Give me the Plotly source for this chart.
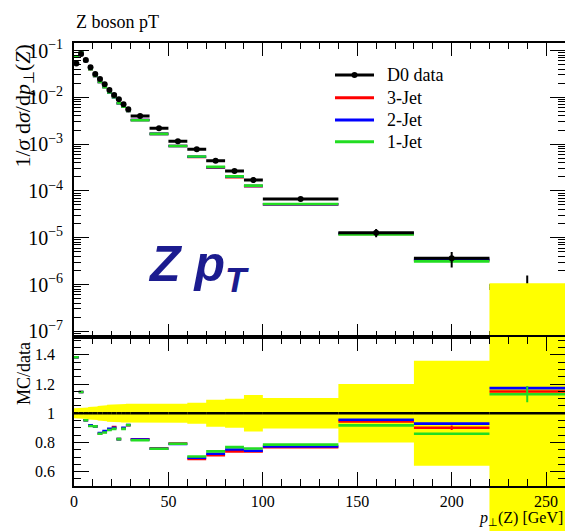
import plotly.graph_objects as go

# ---------------- data ----------------
bin_edges = [0, 2.5, 5, 7.5, 10, 12.5, 15, 17.5, 20, 22.5, 25, 27.5, 30,
             40, 50, 60, 70, 80, 90, 100, 140, 180, 220, 260]

data_vals = [0.053, 0.084, 0.0627, 0.0437, 0.0315, 0.0246, 0.0190, 0.0143,
             0.0112, 0.00906, 0.00708, 0.00554, 0.00398, 0.00218, 0.00115,
             0.000774, 0.000442, 0.000266, 0.000171, 6.7e-5, 1.28e-5,
             3.63e-6, 8.2e-7]
data_relerr = [0.035, 0.037, 0.040, 0.043, 0.046, 0.050, 0.055, 0.058, 0.060,
               0.062, 0.063, 0.065, 0.067, 0.068, 0.065, 0.072, 0.093, 0.100,
               0.125, 0.105, 0.200, 0.360, 0.890]

# MC / data ratios
ratio_3jet = [1.383, 1.146, 0.952, 0.915, 0.910, 0.860, 0.872, 0.890, 0.905,
              0.823, 0.897, 0.918, 0.822, 0.760, 0.793, 0.687, 0.713, 0.739,
              0.739, 0.768, 0.944, 0.901, 1.149]
ratio_2jet = [1.383, 1.146, 0.952, 0.918, 0.910, 0.865, 0.878, 0.893, 0.900,
              0.823, 0.900, 0.920, 0.820, 0.757, 0.790, 0.695, 0.723, 0.752,
              0.743, 0.772, 0.956, 0.929, 1.172]
ratio_1jet = [1.383, 1.146, 0.952, 0.913, 0.910, 0.860, 0.868, 0.885, 0.893,
              0.823, 0.893, 0.920, 0.815, 0.757, 0.791, 0.704, 0.739, 0.768,
              0.759, 0.785, 0.917, 0.860, 1.130]
# MC statistical errors (in ratio units)
err_3jet = [0, 0, 0, 0, 0, 0, 0, 0, 0, 0, 0, 0, 0, 0, 0, 0, 0, 0, 0, 0, 0, 0.015, 0]
err_2jet = [0, 0, 0, 0, 0, 0, 0, 0, 0, 0, 0, 0, 0, 0, 0, 0, 0, 0, 0, 0, 0, 0, 0.012]
err_1jet = [0, 0, 0, 0, 0, 0, 0, 0, 0, 0, 0, 0, 0, 0, 0, 0, 0, 0, 0, 0, 0, 0, 0.055]

legend_labels = ["D0 data", "3-Jet", "2-Jet", "1-Jet"]
mc_colors = ["#ff0000", "#0000ff", "#22dd22"]

x_ticks = [0, 50, 100, 150, 200, 250]

# ---------------- helpers ----------------
lo = bin_edges[:-1]
hi = bin_edges[1:]
centers = [(a + b) / 2 for a, b in zip(lo, hi)]
halfw = [(b - a) / 2 for a, b in zip(lo, hi)]


def segments(vals):
    xs, ys = [], []
    for a, b, v in zip(lo, hi, vals):
        xs += [a, b, None]
        ys += [v, v, None]
    return xs, ys


FONT = "Liberation Serif"
W, H = 565, 531
L = 74
top_px, mid_px, bot_px = 42.5, 337.3, 485.7
dom_top = [(H - mid_px) / H, (H - top_px) / H]
dom_rat = [(H - bot_px) / H, (H - mid_px) / H]
rat_range = [0.504, 1.52]
# hidden linear axis with the same scale as the ratio axis, spanning the full height
upp = (rat_range[1] - rat_range[0]) / (bot_px - mid_px)
ext_range = [rat_range[0] - (H - bot_px) * upp, rat_range[1] + mid_px * upp]

fig = go.Figure()

mc_ratios = [ratio_3jet, ratio_2jet, ratio_1jet]
mc_errs = [err_3jet, err_2jet, err_1jet]

# ---- top panel: MC
for r, c in zip(mc_ratios, mc_colors):
    mc = [ri * d for ri, d in zip(r, data_vals)]
    xs, ys = segments(mc)
    fig.add_trace(go.Scatter(x=xs, y=ys, mode="lines", line=dict(color=c, width=2.6),
                             xaxis="x", yaxis="y", showlegend=False, hoverinfo="skip"))
# ---- top panel: data
fig.add_trace(go.Scatter(
    x=centers, y=data_vals, mode="markers",
    marker=dict(color="black", size=6),
    error_x=dict(type="data", array=halfw, width=0, thickness=3, color="black"),
    error_y=dict(type="data", array=[d * e for d, e in zip(data_vals, data_relerr)],
                 width=0, thickness=2, color="black"),
    xaxis="x", yaxis="y", showlegend=False, hoverinfo="skip"))

# ---- ratio panel: data uncertainty band on the hidden extended axis (may overflow)
bx, by_up, by_lo = [], [], []
for a, b, e in zip(lo, hi, data_relerr):
    bx += [a, b]
    by_up += [1 + e, 1 + e]
    by_lo += [1 - e, 1 - e]
fig.add_trace(go.Scatter(x=bx + bx[::-1], y=by_up + by_lo[::-1], mode="lines",
                         fill="toself", fillcolor="#ffff00", line=dict(width=0),
                         xaxis="x2", yaxis="y2", showlegend=False, hoverinfo="skip"))
# ---- ratio panel lines on the visible ratio axis
xs, ys = segments([d / d for d in data_vals])
fig.add_trace(go.Scatter(x=xs, y=ys, mode="lines", line=dict(color="black", width=2.4),
                         xaxis="x2", yaxis="y3", showlegend=False, hoverinfo="skip"))
for r, e, c in zip(mc_ratios, mc_errs, mc_colors):
    xs, ys = segments(r)
    fig.add_trace(go.Scatter(x=xs, y=ys, mode="lines", line=dict(color=c, width=2.6),
                             xaxis="x2", yaxis="y3", showlegend=False, hoverinfo="skip"))
    fig.add_trace(go.Scatter(x=centers, y=r, mode="markers",
                             marker=dict(size=1, color="rgba(0,0,0,0)"),
                             error_y=dict(type="data", array=e, width=0, thickness=2, color=c),
                             xaxis="x2", yaxis="y3", showlegend=False, hoverinfo="skip"))

tickfont = dict(family=FONT, size=16, color="black")
common_x = dict(range=[0, 260], ticks="inside", ticklen=14, tickwidth=1.3, tickcolor="black",
                showline=True, linecolor="black", linewidth=1.5, mirror="ticks",
                tickvals=x_ticks, showgrid=False, zeroline=False,
                minor=dict(ticks="inside", ticklen=7, dtick=10, tick0=0, tickcolor="black",
                           showgrid=False))

fig.update_layout(
    width=W, height=H,
    margin=dict(l=L, r=0, t=0, b=0, autoexpand=False),
    paper_bgcolor="white", plot_bgcolor="rgba(0,0,0,0)",
    showlegend=False,
    xaxis=dict(domain=[0, 1], anchor="y", showticklabels=False, **common_x),
    xaxis2=dict(domain=[0, 1], anchor="y3", showticklabels=True, tickfont=tickfont,
                ticktext=[str(v) for v in x_ticks], ticklabelstandoff=0, **common_x),
    yaxis=dict(domain=dom_top, anchor="x", type="log", range=[-7.128, -0.829],
               dtick=1, exponentformat="power", showexponent="all",
               ticks="inside", ticklen=15, tickwidth=1.3, tickcolor="black",
               showline=True, linecolor="black", linewidth=1.5, mirror="ticks",
               tickfont=tickfont, showgrid=False, zeroline=False, ticklabelstandoff=6,
               minor=dict(ticks="inside", ticklen=7, dtick="D1", tickcolor="black",
                          showgrid=False)),
    yaxis2=dict(domain=[0, 1], anchor="x2", range=ext_range, visible=False,
                showgrid=False, zeroline=False),
    yaxis3=dict(domain=dom_rat, anchor="x2", range=rat_range, dtick=0.2, tick0=0,
                ticks="inside", ticklen=15, tickwidth=1.3, tickcolor="black",
                showline=True, linecolor="black", linewidth=1.5, mirror="ticks",
                tickfont=tickfont, showgrid=False, zeroline=False, ticklabelstandoff=14,
                minor=dict(ticks="inside", ticklen=7, dtick=0.05, tick0=0,
                           tickcolor="black", showgrid=False)),
)


def px_x(p):
    return (p - L) / (W - L)


def px_y(p):
    return (H - p) / H


ann = []
ann.append(dict(text="Z boson pT", x=px_x(74), y=px_y(22), xanchor="left", yanchor="middle",
                font=dict(family=FONT, size=18, color="black")))
ann.append(dict(text="1/<i>σ</i>\u00a0d<i>σ</i>/d<i>p</i><sub>⊥</sub>(<i>Z</i>)", textangle=-90,
                x=px_x(24), y=px_y(43), xanchor="center", yanchor="top",
                font=dict(family=FONT, size=22, color="black")))
ann.append(dict(text="MC/data", textangle=-90, x=px_x(23.5), y=px_y(340),
                xanchor="center", yanchor="top",
                font=dict(family=FONT, size=18, color="black")))
ann.append(dict(text="<i>p</i><sub>⊥</sub>(Z) [GeV]", x=1, y=px_y(530),
                xanchor="right", yanchor="bottom",
                font=dict(family=FONT, size=16, color="black")))
ann.append(dict(text="<b><i>Z p<sub>T</sub></i></b>", x=px_x(146), y=px_y(268),
                xanchor="left", yanchor="middle",
                font=dict(family="Liberation Sans", size=50, color="#1c1c8f")))

shapes = []
leg_y = [75, 97.7, 120, 141.7]
leg_cols = ["black"] + mc_colors
for lab, yy, col in zip(legend_labels, leg_y, leg_cols):
    shapes.append(dict(type="line", xref="paper", yref="paper",
                       x0=px_x(335), x1=px_x(374), y0=px_y(yy), y1=px_y(yy),
                       line=dict(color=col, width=3)))
    ann.append(dict(text=lab, x=px_x(385), y=px_y(yy), xanchor="left", yanchor="middle",
                    font=dict(family=FONT, size=18, color="black")))
shapes.append(dict(type="circle", xref="paper", yref="paper",
                   x0=px_x(351.5), x1=px_x(357.5), y0=px_y(72), y1=px_y(78),
                   fillcolor="black", line=dict(color="black", width=0)))

for a in ann:
    a.setdefault("xref", "paper")
    a.setdefault("yref", "paper")
    a["showarrow"] = False
fig.update_layout(annotations=ann, shapes=shapes)

fig.write_html("out.html")
